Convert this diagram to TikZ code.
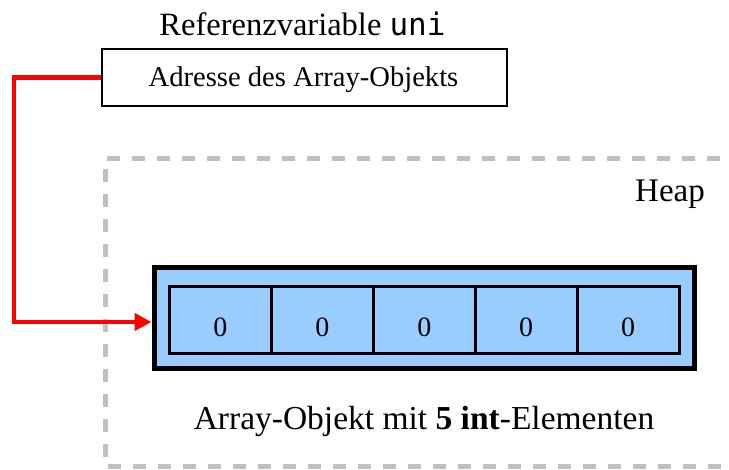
\documentclass[tikz,border=0pt]{standalone}
\usepackage{fontspec}
\setmainfont{Liberation Serif}
\setmonofont{DejaVu Sans Mono}
\usetikzlibrary{arrows.meta}
\definecolor{heapgray}{RGB}{192,192,192}
\definecolor{arrblue}{RGB}{153,204,255}
\definecolor{ptrred}{RGB}{255,0,0}
\tikzset{
  txt/.style={anchor=base, inner sep=0pt},
  cellbox/.style={draw=black, line width=3pt, minimum width=101.9pt, minimum height=67.5pt, inner sep=0pt},
  ptr/.style={draw=ptrred, line width=4.3pt, -{Triangle[length=17pt,width=17pt]}},
  heapline/.style={draw=heapgray, line width=4.5pt, dash pattern=on 13pt off 12pt},
}
\begin{document}
\begin{tikzpicture}[x=1pt,y=-1pt]
\useasboundingbox (0,0) rectangle (729,470);
\clip (0,0) rectangle (729,470);
% heap region
\draw[heapline] (745,158.3) -- (105.5,158.3) -- (105.5,466.5) -- (745,466.5);
\node[txt, font=\fontsize{33}{38}\selectfont] (heap) at (670,201.5) {Heap};
% reference variable
\node[txt, font=\fontsize{32.5}{38}\selectfont] (title) at (302.5,36) {Referenzvariable \texttt{\fontsize{31}{36}\selectfont uni}};
\node[draw=black, line width=2pt, minimum width=405pt, minimum height=56.5pt, inner sep=0pt] (addr) at (304.5,77.5) {};
\node[txt, font=\fontsize{28.6}{34}\selectfont] (addrtext) at (303.5,87) {Adresse des Array-Objekts};
% array object
\node[draw=black, fill=arrblue, line width=5pt, minimum width=540.5pt, minimum height=100.5pt, inner sep=0pt] (arr) at (424.25,318.25) {};
\foreach \i/\x in {1/220.45, 2/322.35, 3/424.25, 4/526.15, 5/628.05} {
  \node[cellbox] (c\i) at (\x,320.25) {};
  \node[txt, font=\fontsize{28}{34}\selectfont] (v\i) at (\x,337) {0};
}
\node[txt, font=\fontsize{33.5}{40}\selectfont] (caption) at (424,430) {Array-Objekt mit \textbf{5 int}-Elementen};
% pointer
\coordinate (bend) at (13.8,77.5);
\draw[ptr] (addr.west) -- (bend) |- ([yshift=-3.75pt]arr.west);
\end{tikzpicture}
\end{document}
